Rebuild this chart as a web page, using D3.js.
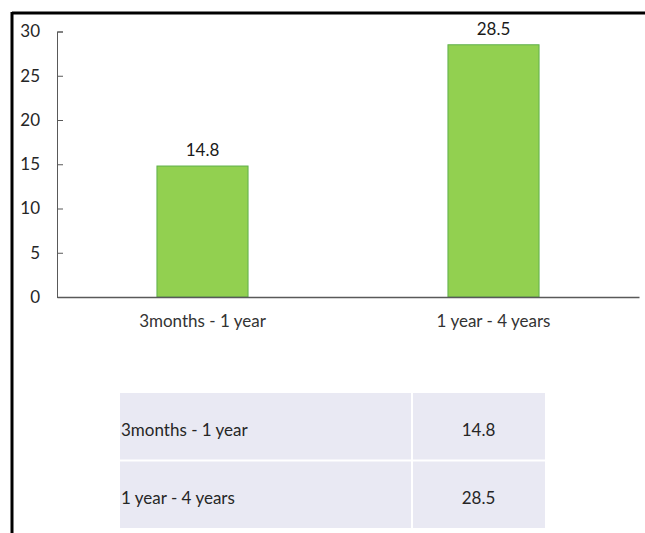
<!DOCTYPE html>
<html>
<head>
<meta charset="utf-8">
<script src="https://cdn.jsdelivr.net/npm/d3@7"></script>
<style>
  html, body { margin: 0; padding: 0; background: #fff; }
  svg { display: block; }
  text { font-family: Lato, "Open Sans", sans-serif; }
</style>
</head>
<body>
<svg id="chart" width="645" height="533"></svg>
<script>
// Duration groups and their values
const categories = ["3months - 1 year", "1 year - 4 years"];
const values = [14.8, 28.5];
const yTicks = [0, 5, 10, 15, 20, 25, 30];

const svg = d3.select("#chart");
const W = 645, H = 533;
const FONT = "Lato, sans-serif";

// Frame: top and left edges
svg.append("line").attr("x1", 12).attr("x2", W).attr("y1", 13).attr("y2", 13)
  .attr("stroke", "#000").attr("stroke-width", 3);
svg.append("line").attr("x1", 12).attr("x2", 12).attr("y1", 12).attr("y2", H)
  .attr("stroke", "#000").attr("stroke-width", 3);

const plot = { left: 57, right: 639, top: 31.5, bottom: 297 };

const x = d3.scaleBand()
  .domain(categories)
  .range([plot.left, plot.right])
  .paddingInner(0.687)
  .paddingOuter(0.3435);

const y = d3.scaleLinear()
  .domain([0, 30])
  .range([plot.bottom, plot.top]);

// Y axis with inward ticks
const yAxis = svg.append("g")
  .attr("transform", `translate(${plot.left},0)`)
  .call(d3.axisLeft(y).tickValues(yTicks).tickSize(-6).tickSizeOuter(-6).tickPadding(17));
yAxis.select(".domain").attr("stroke", "#595959");
yAxis.selectAll(".tick line").attr("stroke", "#595959");
yAxis.selectAll(".tick text").attr("fill", "#262626").attr("font-size", 17)
  .style("font-family", FONT);

// Bars
svg.append("g").selectAll("rect")
  .data(values)
  .join("rect")
  .attr("x", (d, i) => x(categories[i]))
  .attr("width", x.bandwidth())
  .attr("y", d => y(d))
  .attr("height", d => y(0) - y(d))
  .attr("fill", "#92d050")
  .attr("stroke", "#5fb04a")
  .attr("stroke-width", 1);

// X axis baseline
const xAxis = svg.append("g")
  .attr("transform", `translate(0,${plot.bottom})`)
  .call(d3.axisBottom(x).tickSize(0).tickPadding(18));
xAxis.select(".domain").attr("stroke", "#595959").attr("stroke-width", 1.5);
xAxis.selectAll(".tick text").attr("fill", "#333").attr("font-size", 17)
  .style("font-family", FONT);

// Value labels
svg.append("g").selectAll("text")
  .data(values)
  .join("text")
  .attr("x", (d, i) => x(categories[i]) + x.bandwidth() / 2)
  .attr("y", d => y(d) - 10)
  .attr("text-anchor", "middle")
  .attr("fill", "#1a1a1a")
  .attr("font-size", 17)
  .text(d => d.toFixed(1));

// Data table below the chart
const table = { left: 120, right: 545, top: 393, rowH: 67.5, split: 412 };
const rows = svg.append("g");
categories.forEach((c, i) => {
  const top = table.top + i * table.rowH;
  rows.append("rect")
    .attr("x", table.left).attr("y", top)
    .attr("width", table.right - table.left).attr("height", table.rowH)
    .attr("fill", "#e9e9f3");
  rows.append("text")
    .attr("x", table.left + 1).attr("y", top + table.rowH / 2 + 9.5)
    .attr("fill", "#262626").attr("font-size", 17)
    .text(c);
  rows.append("text")
    .attr("x", (table.split + table.right) / 2).attr("y", top + table.rowH / 2 + 9.5)
    .attr("text-anchor", "middle")
    .attr("fill", "#262626").attr("font-size", 17)
    .text(values[i].toFixed(1));
});
// White cell separators
rows.append("line")
  .attr("x1", table.left).attr("x2", table.right)
  .attr("y1", table.top + table.rowH).attr("y2", table.top + table.rowH)
  .attr("stroke", "#fff").attr("stroke-width", 2);
rows.append("line")
  .attr("x1", table.split).attr("x2", table.split)
  .attr("y1", table.top).attr("y2", table.top + 2 * table.rowH)
  .attr("stroke", "#fff").attr("stroke-width", 2);
</script>
</body>
</html>
